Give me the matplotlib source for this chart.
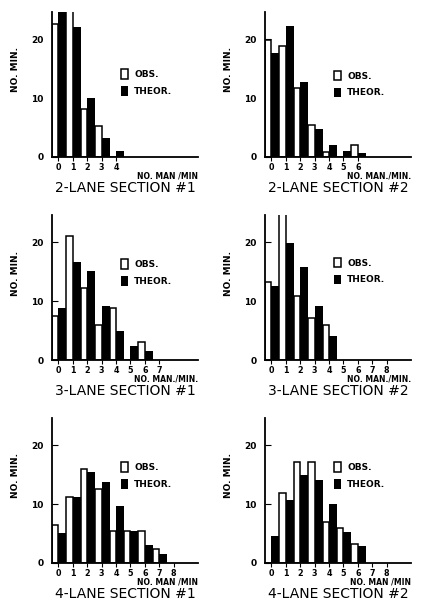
import matplotlib.pyplot as plt
from matplotlib.patches import Patch

plt.rcParams['font.family'] = 'DejaVu Sans'

titles = ["2-LANE SECTION #1", "2-LANE SECTION #2",
          "3-LANE SECTION #1", "3-LANE SECTION #2",
          "4-LANE SECTION #1", "4-LANE SECTION #2"]

# observed / theoretical number of minutes per count of merging men
obs_2l1 = [22.6, 26, 8.2, 5.2, 0]
theor_2l1 = [26, 22.0, 10.0, 3.3, 1.1]
obs_2l2 = [19.8, 18.8, 11.7, 5.5, 0.8, 0, 2.0]
theor_2l2 = [17.7, 22.3, 12.8, 4.7, 2.0, 1.1, 0.7]
obs_3l1 = [7.4, 21.1, 12.2, 5.9, 8.8, 0, 3.1]
theor_3l1 = [8.8, 16.6, 15.1, 9.2, 4.9, 2.3, 1.6]
obs_3l2 = [13.2, 26, 10.8, 7.1, 6.0]
theor_3l2 = [12.5, 19.9, 15.7, 9.1, 4.0]
obs_4l1 = [6.5, 11.2, 16.0, 12.6, 5.5, 5.5, 5.5, 2.3]
theor_4l1 = [5.1, 11.2, 15.4, 13.7, 9.7, 5.5, 3.0, 1.6]
obs_4l2 = [0, 11.8, 17.2, 17.2, 6.9, 6.0, 3.2]
theor_4l2 = [4.5, 10.7, 14.9, 14.0, 10.0, 5.2, 2.8]

obs_all = [obs_2l1, obs_2l2, obs_3l1, obs_3l2, obs_4l1, obs_4l2]
theor_all = [theor_2l1, theor_2l2, theor_3l1, theor_3l2, theor_4l1, theor_4l2]
n_ticks = [5, 7, 8, 9, 9, 9]
xlabels = ["NO. MAN /MIN", "NO. MAN./MIN.", "NO. MAN./MIN.",
           "NO. MAN./MIN.", "NO. MAN /MIN", "NO. MAN /MIN"]
leg_y = [0.66, 0.65, 0.75, 0.76, 0.75, 0.75]

W, H = 422, 611
fig = plt.figure(figsize=(W / 100, H / 100), dpi=100)

lefts = [52, 265]
baselines = [157, 360, 563]
aw, ah = 146, 145

for i in range(6):
    r, c = divmod(i, 2)
    ax = fig.add_axes([lefts[c] / W, (H - baselines[r]) / H, aw / W, ah / H])
    obs = obs_all[i]
    theor = theor_all[i]
    ax.bar(range(len(obs)), obs, width=-0.45, align='edge', facecolor='white',
           edgecolor='black', linewidth=1.1, zorder=2)
    ax.bar(range(len(theor)), theor, width=0.55, align='edge',
           color='black', zorder=3)
    ax.set_xlim(-0.45, 9.7)
    ax.set_ylim(0, 24.6)
    for s in ['top', 'right']:
        ax.spines[s].set_visible(False)
    ax.spines['left'].set_linewidth(1.3)
    ax.spines['bottom'].set_linewidth(1.3)
    ax.set_yticks([0, 10, 20])
    ax.tick_params(axis='y', direction='in', length=4, labelsize=6.5, pad=6)
    ax.set_xticks(range(n_ticks[i]))
    ax.tick_params(axis='x', direction='out', length=3, labelsize=5.8, pad=1)
    for t in ax.get_yticklabels() + ax.get_xticklabels():
        t.set_fontweight('bold')
    ax.set_ylabel("NO. MIN.", fontsize=6.5, fontweight='bold')
    ax.yaxis.set_label_coords(-0.22, 0.6)
    ax.text(1.0, -0.13, xlabels[i], transform=ax.transAxes, ha='right',
            va='center', fontsize=5.5, fontweight='bold')
    ax.text(0.5, -0.215, titles[i], transform=ax.transAxes, ha='center',
            va='center', fontsize=10)
    handles = [Patch(facecolor='white', edgecolor='black', linewidth=1.1),
               Patch(facecolor='black')]
    ax.legend(handles, ["OBS.", "THEOR."], frameon=False, loc='upper left',
              bbox_to_anchor=(0.42, leg_y[i]),
              handlelength=0.7, handleheight=1.2, handletextpad=0.7,
              labelspacing=0.8, prop={'weight': 'bold', 'size': 6.5})

fig.savefig("out.png", dpi=100)
